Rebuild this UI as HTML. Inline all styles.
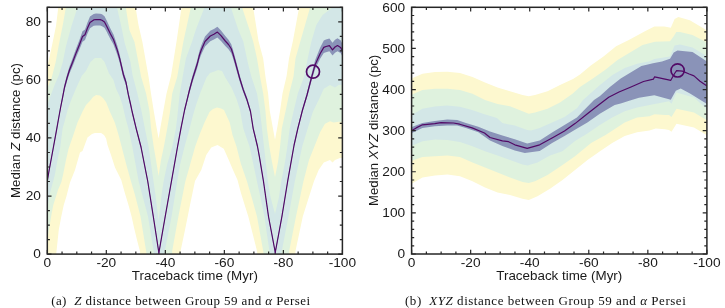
<!DOCTYPE html><html><head><meta charset="utf-8"><style>
html,body{margin:0;padding:0;background:#fff;width:725px;height:308px;overflow:hidden}
svg{display:block;will-change:transform}
.t{font-family:"Liberation Sans",sans-serif;font-size:12.60px;fill:#1a1a1a}
.c{font-family:"Liberation Serif",serif;font-size:12.4px;fill:#111}
</style></head><body><svg width="725" height="308" viewBox="0 0 725 308"><clipPath id="c47"><rect x="47.30" y="7.30" width="295.10" height="246.80"/></clipPath><g clip-path="url(#c47)"><polygon points="47.30,66.00 50.00,55.00 52.50,43.00 56.00,26.00 58.30,7.00 59.00,-10.00 134.50,-10.00 135.60,7.50 138.50,25.00 142.40,42.00 148.60,77.00 151.00,93.60 153.60,110.00 156.50,127.00 158.60,138.60 160.50,127.00 163.50,110.00 166.50,93.60 171.00,76.00 176.60,41.00 181.50,7.50 182.50,-10.00 252.30,-10.00 253.20,7.50 258.50,41.00 263.20,58.60 265.50,77.00 268.10,93.60 269.80,111.00 272.50,126.00 275.00,139.80 277.50,126.00 280.00,111.00 282.50,93.60 286.60,76.00 289.00,58.60 292.90,41.00 299.10,7.50 300.00,-10.00 343.00,-10.00 343.00,158.00 340.00,158.00 335.00,160.00 332.50,162.40 330.00,159.90 323.80,162.40 318.80,169.80 313.90,181.50 308.00,200.00 302.80,216.50 295.50,251.00 295.30,253.70 295.20,262.00 257.50,262.00 257.30,253.70 257.00,251.00 248.30,216.50 244.60,204.80 240.80,192.40 237.50,180.00 233.00,170.00 228.75,160.00 223.75,148.75 217.50,145.00 211.25,147.50 206.25,155.00 201.25,170.00 195.00,181.00 190.00,205.00 185.00,230.00 180.00,253.70 179.80,262.00 140.50,262.00 140.20,253.70 139.90,251.00 137.00,240.00 134.00,227.40 131.60,216.50 128.40,204.80 124.70,192.40 121.25,180.00 115.00,167.50 111.00,155.00 107.50,145.00 106.10,138.60 104.00,135.00 101.10,133.00 94.90,133.00 92.00,134.00 87.50,137.50 82.50,151.00 80.00,152.50 75.00,170.00 70.00,182.50 66.25,197.00 63.75,205.00 61.20,217.00 58.75,230.00 56.25,253.70 55.80,262.00 47.30,262.00" fill="#fdf8cf"/><polygon points="47.30,88.00 51.60,78.00 55.70,62.00 58.60,46.00 62.60,26.00 65.80,8.00 66.50,-10.00 125.30,-10.00 125.80,7.50 129.40,30.00 134.50,42.00 141.20,77.00 146.10,93.60 149.50,111.00 151.10,128.60 153.60,146.00 156.00,160.00 158.60,176.00 161.00,160.00 164.00,146.00 167.20,128.60 170.00,112.00 172.20,93.60 177.20,77.00 183.40,41.50 190.80,7.50 191.50,-10.00 241.50,-10.00 242.10,7.50 249.50,29.80 253.20,41.50 257.00,58.60 260.00,76.50 263.20,93.60 265.50,111.50 266.90,128.60 269.40,147.00 272.00,162.00 275.00,177.00 278.00,162.00 280.00,147.00 281.80,128.60 285.50,111.50 289.20,93.60 293.50,76.50 295.50,58.60 300.30,41.50 310.10,7.50 311.00,-10.00 343.00,-10.00 343.00,121.80 338.70,121.80 333.70,122.40 330.00,121.20 325.00,123.70 320.10,132.30 314.40,146.50 309.00,160.00 303.40,181.50 296.00,216.50 289.20,251.00 289.20,253.70 288.80,262.00 264.00,262.00 263.60,253.70 263.20,251.00 257.00,216.50 252.00,198.60 247.00,181.50 240.80,163.60 236.50,146.50 232.50,135.00 229.70,122.40 224.00,110.00 221.00,108.50 217.00,107.50 213.00,109.00 209.50,112.00 204.50,122.40 199.50,134.80 195.20,146.50 190.00,165.00 185.30,181.50 178.40,216.50 172.20,251.00 172.20,253.70 171.80,262.00 147.00,262.00 146.50,253.70 146.10,251.00 140.50,216.50 135.00,195.00 131.00,181.50 126.00,163.60 121.60,146.50 118.50,134.80 114.80,122.40 109.80,111.50 106.10,102.30 103.00,98.00 99.90,95.50 96.10,94.90 93.00,97.00 89.90,101.10 86.00,105.00 82.80,111.00 77.50,122.40 72.60,137.30 68.50,149.00 66.00,160.00 63.00,175.00 61.40,182.00 58.00,190.00 53.30,205.00 51.40,215.00 48.30,233.60 47.30,240.00" fill="#dff2de"/><polygon points="47.30,105.00 51.40,93.60 55.00,84.00 58.90,75.00 62.80,62.00 66.00,46.00 71.50,26.00 77.50,7.50 78.50,-10.00 116.30,-10.00 117.00,7.50 121.00,25.00 124.70,43.00 130.50,62.00 132.50,75.00 137.40,93.60 141.50,111.00 144.90,128.60 148.60,146.50 153.60,182.00 155.50,195.00 158.60,221.00 161.50,195.00 163.50,182.00 167.00,165.00 172.20,147.00 175.90,128.60 177.50,115.00 179.70,93.60 182.30,79.00 185.90,58.60 192.10,41.50 195.80,29.80 204.50,7.50 205.50,-10.00 230.30,-10.00 230.90,7.50 238.30,29.80 243.30,41.50 248.30,64.80 251.50,77.00 257.00,93.60 260.00,111.50 262.00,128.60 264.00,146.50 268.10,183.00 270.50,197.00 275.00,214.00 279.00,197.00 281.00,183.00 285.00,162.00 287.30,147.00 289.70,128.60 293.50,111.50 297.80,93.60 304.00,77.00 307.70,58.60 311.40,41.50 316.30,24.90 322.60,14.90 332.50,7.50 333.50,-10.00 343.00,-10.00 343.00,85.00 338.70,84.90 335.00,87.40 330.00,84.90 323.80,88.70 318.80,99.80 313.00,111.50 307.70,128.60 302.20,146.50 294.80,181.50 288.50,216.50 281.80,251.00 281.50,253.70 281.00,262.00 270.20,262.00 269.80,253.70 269.40,251.00 264.40,216.50 260.70,198.60 257.00,181.50 253.20,163.60 249.50,146.50 243.30,128.60 240.00,110.00 236.50,99.00 231.50,87.40 225.30,77.50 222.00,71.00 218.00,70.00 214.40,71.50 210.00,73.00 206.50,77.50 201.00,91.00 196.00,105.00 192.80,116.00 189.60,128.60 184.60,146.50 180.00,165.00 177.20,181.50 171.60,216.50 164.80,251.00 164.50,253.70 164.00,262.00 154.50,262.00 154.00,253.70 153.60,251.00 148.00,216.50 138.70,181.50 132.30,146.50 128.40,128.60 125.50,118.00 122.50,105.00 119.50,96.00 116.10,89.00 113.40,79.70 109.00,73.50 104.60,62.00 101.10,58.00 94.90,58.00 90.50,62.00 86.10,70.80 81.70,76.10 76.00,88.50 71.30,99.80 67.60,110.00 65.00,120.00 62.60,128.60 60.30,147.00 57.50,160.00 54.80,175.00 53.00,182.00 50.00,193.00 47.30,208.00" fill="#d3e7e7"/><polygon points="47.30,179.20 49.00,169.20 52.90,148.20 56.80,126.80 58.50,117.20 60.50,106.16 62.60,94.96 64.50,84.60 67.00,74.76 69.50,66.38 72.60,58.32 76.30,47.96 79.50,39.69 82.50,31.32 85.00,29.54 87.50,22.42 90.00,16.56 93.70,13.95 96.00,13.53 100.20,13.63 102.00,14.36 104.50,16.14 106.70,20.54 108.30,23.99 110.50,28.70 113.50,34.46 117.20,45.35 119.70,54.45 123.50,71.62 126.00,79.36 128.40,92.45 130.50,101.97 132.20,110.20 136.20,126.80 141.00,145.20 147.70,179.20 153.30,214.70 158.60,249.20 158.90,251.90 159.20,249.20 165.30,214.20 171.50,179.20 177.50,145.20 180.90,126.80 184.60,108.20 187.40,96.32 189.50,87.32 192.50,75.80 197.00,60.94 199.50,50.68 201.25,45.45 205.00,36.55 210.30,30.80 213.90,29.02 217.40,26.72 221.00,30.48 225.30,36.03 228.50,39.69 231.25,44.14 233.00,49.64 235.00,56.96 239.60,74.76 243.30,87.21 247.00,97.57 250.50,109.70 253.20,126.80 257.50,144.70 259.50,155.60 263.50,179.70 268.50,214.70 275.00,249.20 275.20,251.90 275.50,249.20 278.50,233.20 282.00,214.20 287.80,178.70 294.10,143.20 297.80,126.80 302.50,108.19 307.00,92.49 311.40,74.51 315.10,60.25 320.10,47.65 323.80,40.55 326.00,39.45 329.40,38.40 332.50,42.87 335.00,39.82 337.50,38.35 340.60,40.23 343.00,45.04 343.00,57.46 340.60,53.07 337.50,51.35 335.00,52.69 332.50,55.45 329.40,51.33 326.00,52.15 323.80,52.94 320.10,58.75 315.10,68.93 311.40,81.34 307.00,97.47 302.50,111.81 297.80,130.40 294.10,146.80 287.80,182.30 282.00,217.80 278.50,236.80 275.50,252.80 275.20,255.50 275.00,252.80 268.50,218.30 263.50,183.30 259.50,159.20 257.50,148.30 253.20,130.40 250.50,113.30 247.00,102.03 243.30,92.59 239.60,81.24 235.00,65.04 233.00,58.36 231.25,53.36 228.50,49.31 225.30,45.97 221.00,40.92 217.40,37.48 213.90,39.58 210.30,41.20 205.00,46.45 201.25,54.55 199.50,59.32 197.00,68.66 192.50,82.20 189.50,92.68 187.40,100.88 184.60,111.80 180.90,130.40 177.50,148.80 171.50,182.80 165.30,217.80 159.20,252.80 158.90,255.50 158.60,252.80 153.30,218.30 147.70,182.80 141.00,148.80 136.20,130.40 132.20,113.80 130.50,106.03 128.40,97.35 126.00,85.44 123.50,78.38 119.70,62.75 117.20,54.45 113.50,44.54 110.50,39.30 108.30,35.01 106.70,31.86 104.50,27.86 102.00,26.24 100.20,25.57 96.00,25.47 93.70,25.85 90.00,28.24 87.50,33.58 85.00,40.06 82.50,41.68 79.50,49.31 76.30,56.84 72.60,66.28 69.50,73.62 67.00,81.24 64.50,90.20 62.60,99.64 60.50,109.84 58.50,120.80 56.80,130.40 52.90,151.80 49.00,172.80 47.30,182.80" fill="#8a93b8"/><polyline points="47.30,181.00 49.00,171.00 52.90,150.00 56.80,128.60 58.50,119.00 60.50,108.00 62.60,97.30 64.50,87.40 67.00,78.00 69.50,70.00 72.60,62.30 76.30,52.40 79.50,44.50 82.50,36.50 85.00,34.80 87.50,28.00 90.00,22.40 93.70,19.90 96.00,19.50 100.20,19.60 102.00,20.30 104.50,22.00 106.70,26.20 108.30,29.50 110.50,34.00 113.50,39.50 117.20,49.90 119.70,58.60 123.50,75.00 126.00,82.40 128.40,94.90 130.50,104.00 132.20,112.00 136.20,128.60 141.00,147.00 147.70,181.00 153.30,216.50 158.60,251.00 158.90,253.70 159.20,251.00 165.30,216.00 171.50,181.00 177.50,147.00 180.90,128.60 184.60,110.00 187.40,98.60 189.50,90.00 192.50,79.00 197.00,64.80 199.50,55.00 201.25,50.00 205.00,41.50 210.30,36.00 213.90,34.30 217.40,32.10 221.00,35.70 225.30,41.00 228.50,44.50 231.25,48.75 233.00,54.00 235.00,61.00 239.60,78.00 243.30,89.90 247.00,99.80 250.50,111.50 253.20,128.60 257.50,146.50 259.50,157.40 263.50,181.50 268.50,216.50 275.00,251.00 275.20,253.70 275.50,251.00 278.50,235.00 282.00,216.00 287.80,180.50 294.10,145.00 297.80,128.60 302.50,110.00 307.00,95.00 311.40,78.00 315.10,64.80 320.10,53.70 323.80,47.40 326.00,46.50 329.40,45.60 332.50,49.90 335.00,47.00 337.50,45.60 340.60,47.40 343.00,52.00" fill="none" stroke="#520a66" stroke-width="1.20" stroke-linejoin="round"/><circle cx="313.00" cy="71.70" r="6.50" fill="none" stroke="#520a66" stroke-width="1.7"/></g><path d="M47.30 254.10v-4.20M47.30 7.30v4.20M62.05 254.10v-2.60M62.05 7.30v2.60M76.81 254.10v-2.60M76.81 7.30v2.60M91.56 254.10v-2.60M91.56 7.30v2.60M106.32 254.10v-4.20M106.32 7.30v4.20M121.07 254.10v-2.60M121.07 7.30v2.60M135.83 254.10v-2.60M135.83 7.30v2.60M150.58 254.10v-2.60M150.58 7.30v2.60M165.34 254.10v-4.20M165.34 7.30v4.20M180.09 254.10v-2.60M180.09 7.30v2.60M194.85 254.10v-2.60M194.85 7.30v2.60M209.61 254.10v-2.60M209.61 7.30v2.60M224.36 254.10v-4.20M224.36 7.30v4.20M239.12 254.10v-2.60M239.12 7.30v2.60M253.87 254.10v-2.60M253.87 7.30v2.60M268.62 254.10v-2.60M268.62 7.30v2.60M283.38 254.10v-4.20M283.38 7.30v4.20M298.13 254.10v-2.60M298.13 7.30v2.60M312.89 254.10v-2.60M312.89 7.30v2.60M327.64 254.10v-2.60M327.64 7.30v2.60M342.40 254.10v-4.20M342.40 7.30v4.20M47.30 254.10h4.20M342.40 254.10h-4.20M47.30 239.58h2.60M342.40 239.58h-2.60M47.30 225.06h2.60M342.40 225.06h-2.60M47.30 210.55h2.60M342.40 210.55h-2.60M47.30 196.03h4.20M342.40 196.03h-4.20M47.30 181.51h2.60M342.40 181.51h-2.60M47.30 166.99h2.60M342.40 166.99h-2.60M47.30 152.48h2.60M342.40 152.48h-2.60M47.30 137.96h4.20M342.40 137.96h-4.20M47.30 123.44h2.60M342.40 123.44h-2.60M47.30 108.92h2.60M342.40 108.92h-2.60M47.30 94.41h2.60M342.40 94.41h-2.60M47.30 79.89h4.20M342.40 79.89h-4.20M47.30 65.37h2.60M342.40 65.37h-2.60M47.30 50.85h2.60M342.40 50.85h-2.60M47.30 36.34h2.60M342.40 36.34h-2.60M47.30 21.82h4.20M342.40 21.82h-4.20M47.30 7.30h2.60M342.40 7.30h-2.60" stroke="#262626" stroke-width="1.2" fill="none"/><rect x="47.30" y="7.30" width="295.10" height="246.80" fill="none" stroke="#262626" stroke-width="1.5"/><text transform="translate(47.30,267.40) scale(1.09,1)" text-anchor="middle" class="t">0</text><text transform="translate(106.32,267.40) scale(1.09,1)" text-anchor="middle" class="t">-20</text><text transform="translate(165.34,267.40) scale(1.09,1)" text-anchor="middle" class="t">-40</text><text transform="translate(224.36,267.40) scale(1.09,1)" text-anchor="middle" class="t">-60</text><text transform="translate(283.38,267.40) scale(1.09,1)" text-anchor="middle" class="t">-80</text><text transform="translate(342.40,267.40) scale(1.09,1)" text-anchor="middle" class="t">-100</text><text transform="translate(40.90,258.40) scale(1.09,1)" text-anchor="end" class="t">0</text><text transform="translate(40.90,200.33) scale(1.09,1)" text-anchor="end" class="t">20</text><text transform="translate(40.90,142.26) scale(1.09,1)" text-anchor="end" class="t">40</text><text transform="translate(40.90,84.19) scale(1.09,1)" text-anchor="end" class="t">60</text><text transform="translate(40.90,26.12) scale(1.09,1)" text-anchor="end" class="t">80</text><text x="194.85" y="280" text-anchor="middle" class="t" textLength="126" lengthAdjust="spacingAndGlyphs">Traceback time (Myr)</text><text transform="translate(20.2,130.5) rotate(-90)" text-anchor="middle" class="t" textLength="135" lengthAdjust="spacingAndGlyphs">Median <tspan font-style="italic">Z</tspan> distance (pc)</text><clipPath id="c411"><rect x="411.60" y="7.30" width="295.30" height="246.70"/></clipPath><g clip-path="url(#c411)"><polygon points="411.50,79.00 413.75,77.50 422.50,73.75 435.00,72.00 447.50,71.75 460.00,73.00 472.50,77.00 485.00,82.50 497.50,87.50 510.00,91.25 522.50,95.00 528.75,96.25 535.00,95.00 547.50,91.25 560.00,85.00 573.00,79.00 580.00,74.50 590.80,65.40 603.50,56.50 616.10,46.30 628.80,40.00 645.40,30.90 654.30,26.50 664.40,26.50 670.80,27.80 674.60,18.90 678.40,17.00 689.80,20.20 702.50,27.80 707.00,30.50 708.00,136.25 706.50,135.00 694.00,127.50 676.50,123.75 671.50,131.75 669.00,130.00 665.00,129.20 655.70,128.60 649.50,130.40 637.10,132.30 624.70,136.00 612.20,143.00 600.00,151.25 587.50,160.00 575.00,170.00 562.50,180.00 550.00,188.75 537.50,196.25 528.75,200.00 522.50,198.75 510.00,195.00 497.50,192.50 485.00,187.50 472.50,181.25 460.00,176.25 447.50,174.50 435.00,175.50 422.50,177.50 413.75,182.50 411.50,184.00" fill="#fdf8cf"/><polygon points="411.50,95.00 413.75,93.75 422.50,90.00 435.00,88.75 447.50,88.75 460.00,90.00 472.50,93.75 485.00,100.00 497.50,104.00 510.00,106.25 522.50,111.25 528.75,113.75 535.00,112.50 547.50,108.75 560.00,102.50 572.50,93.75 580.00,87.00 592.50,78.75 605.00,70.00 617.50,60.00 630.00,52.50 642.50,45.00 655.00,41.75 670.00,41.25 673.75,36.25 676.25,32.00 680.00,32.00 692.50,35.00 707.00,42.50 708.00,121.25 706.50,120.00 694.00,112.50 676.50,108.75 671.50,117.00 669.00,115.00 665.00,114.90 654.50,114.30 649.50,116.20 637.10,117.40 624.70,122.40 606.00,134.80 591.10,143.00 575.00,156.25 562.50,165.00 547.50,175.00 535.00,181.25 528.75,183.00 522.50,182.00 510.00,177.50 497.50,172.50 485.00,167.50 472.50,162.50 460.00,157.00 447.50,155.50 435.00,156.25 422.50,157.00 413.75,160.00 411.50,161.00" fill="#dff2de"/><polygon points="411.50,115.00 413.70,113.70 422.40,108.70 434.80,106.50 447.20,105.60 459.70,106.80 472.10,109.90 484.50,114.30 496.90,118.00 502.40,123.10 514.80,125.60 527.20,129.90 531.00,130.50 539.70,128.00 552.10,122.40 564.50,116.90 577.20,108.00 583.00,100.00 600.00,85.00 612.40,75.00 624.80,68.10 637.20,63.70 649.70,61.20 654.30,59.00 670.00,56.40 674.60,45.50 680.00,44.50 692.50,47.50 707.00,56.25 708.00,110.00 706.50,108.75 694.00,97.50 676.50,92.50 671.50,103.75 669.00,101.25 660.00,103.00 649.50,105.00 637.10,107.50 624.70,111.20 612.20,117.40 599.80,124.90 587.40,133.60 575.00,141.00 562.40,151.20 550.00,155.50 537.50,162.50 527.50,165.50 522.50,164.50 510.00,160.00 497.50,155.50 485.00,151.25 472.50,146.25 460.00,142.00 447.50,140.00 435.00,139.50 422.50,141.25 413.75,145.00 411.50,146.00" fill="#d3e7e7"/><polygon points="411.50,127.50 412.50,126.70 422.40,123.00 434.80,121.10 447.20,119.60 457.20,119.90 465.90,123.00 478.30,126.70 490.00,131.50 502.40,135.50 514.80,139.20 527.20,143.60 539.70,140.50 552.10,132.40 564.50,124.90 576.90,117.50 594.00,100.00 600.00,96.00 609.90,87.00 620.70,78.60 633.10,71.10 641.40,66.10 653.00,63.20 662.00,61.50 670.00,58.75 673.75,52.50 677.50,50.50 692.50,52.00 707.00,61.50 707.00,104.10 690.00,93.50 680.70,88.60 675.80,90.80 670.80,99.70 654.30,95.20 639.00,97.80 630.00,100.50 620.70,103.60 614.70,105.00 599.80,113.70 587.40,122.40 575.00,129.80 564.50,136.10 552.10,142.90 539.70,151.00 524.80,153.00 514.80,150.40 502.40,146.00 490.00,140.50 478.30,132.30 465.90,127.90 457.20,125.50 447.20,125.50 434.80,126.30 422.40,127.90 411.90,132.90 411.50,133.20" fill="#8a93b8"/><polyline points="411.50,130.80 411.90,130.40 416.20,127.90 422.40,124.80 434.80,123.60 441.00,122.70 453.50,123.00 459.70,124.20 472.10,127.90 484.50,133.00 490.00,137.50 502.40,140.80 508.60,141.70 514.80,144.80 527.20,148.30 539.70,144.80 552.10,138.00 564.50,131.10 575.00,123.60 587.40,113.70 598.60,105.00 608.70,97.20 619.00,92.00 631.00,87.00 643.50,81.50 653.40,79.20 654.60,76.80 670.80,80.30 674.60,73.50 676.60,70.60 682.40,71.10 689.20,74.00 694.00,75.90 700.00,81.30 707.00,86.00" fill="none" stroke="#520a66" stroke-width="1.20" stroke-linejoin="round"/><circle cx="677.60" cy="70.40" r="6.60" fill="none" stroke="#520a66" stroke-width="1.7"/></g><path d="M411.60 254.00v-4.20M411.60 7.30v4.20M426.37 254.00v-2.60M426.37 7.30v2.60M441.13 254.00v-2.60M441.13 7.30v2.60M455.90 254.00v-2.60M455.90 7.30v2.60M470.66 254.00v-4.20M470.66 7.30v4.20M485.43 254.00v-2.60M485.43 7.30v2.60M500.19 254.00v-2.60M500.19 7.30v2.60M514.96 254.00v-2.60M514.96 7.30v2.60M529.72 254.00v-4.20M529.72 7.30v4.20M544.49 254.00v-2.60M544.49 7.30v2.60M559.25 254.00v-2.60M559.25 7.30v2.60M574.01 254.00v-2.60M574.01 7.30v2.60M588.78 254.00v-4.20M588.78 7.30v4.20M603.54 254.00v-2.60M603.54 7.30v2.60M618.31 254.00v-2.60M618.31 7.30v2.60M633.08 254.00v-2.60M633.08 7.30v2.60M647.84 254.00v-4.20M647.84 7.30v4.20M662.61 254.00v-2.60M662.61 7.30v2.60M677.37 254.00v-2.60M677.37 7.30v2.60M692.13 254.00v-2.60M692.13 7.30v2.60M706.90 254.00v-4.20M706.90 7.30v4.20M411.60 254.00h4.20M706.90 254.00h-4.20M411.60 245.78h2.60M706.90 245.78h-2.60M411.60 237.55h2.60M706.90 237.55h-2.60M411.60 229.33h2.60M706.90 229.33h-2.60M411.60 221.11h2.60M706.90 221.11h-2.60M411.60 212.88h4.20M706.90 212.88h-4.20M411.60 204.66h2.60M706.90 204.66h-2.60M411.60 196.44h2.60M706.90 196.44h-2.60M411.60 188.21h2.60M706.90 188.21h-2.60M411.60 179.99h2.60M706.90 179.99h-2.60M411.60 171.77h4.20M706.90 171.77h-4.20M411.60 163.54h2.60M706.90 163.54h-2.60M411.60 155.32h2.60M706.90 155.32h-2.60M411.60 147.10h2.60M706.90 147.10h-2.60M411.60 138.87h2.60M706.90 138.87h-2.60M411.60 130.65h4.20M706.90 130.65h-4.20M411.60 122.43h2.60M706.90 122.43h-2.60M411.60 114.20h2.60M706.90 114.20h-2.60M411.60 105.98h2.60M706.90 105.98h-2.60M411.60 97.76h2.60M706.90 97.76h-2.60M411.60 89.53h4.20M706.90 89.53h-4.20M411.60 81.31h2.60M706.90 81.31h-2.60M411.60 73.09h2.60M706.90 73.09h-2.60M411.60 64.86h2.60M706.90 64.86h-2.60M411.60 56.64h2.60M706.90 56.64h-2.60M411.60 48.42h4.20M706.90 48.42h-4.20M411.60 40.19h2.60M706.90 40.19h-2.60M411.60 31.97h2.60M706.90 31.97h-2.60M411.60 23.75h2.60M706.90 23.75h-2.60M411.60 15.52h2.60M706.90 15.52h-2.60M411.60 7.30h4.20M706.90 7.30h-4.20" stroke="#262626" stroke-width="1.2" fill="none"/><rect x="411.60" y="7.30" width="295.30" height="246.70" fill="none" stroke="#262626" stroke-width="1.5"/><text transform="translate(411.60,267.30) scale(1.09,1)" text-anchor="middle" class="t">0</text><text transform="translate(470.66,267.30) scale(1.09,1)" text-anchor="middle" class="t">-20</text><text transform="translate(529.72,267.30) scale(1.09,1)" text-anchor="middle" class="t">-40</text><text transform="translate(588.78,267.30) scale(1.09,1)" text-anchor="middle" class="t">-60</text><text transform="translate(647.84,267.30) scale(1.09,1)" text-anchor="middle" class="t">-80</text><text transform="translate(706.90,267.30) scale(1.09,1)" text-anchor="middle" class="t">-100</text><text transform="translate(405.20,258.30) scale(1.09,1)" text-anchor="end" class="t">0</text><text transform="translate(405.20,217.18) scale(1.09,1)" text-anchor="end" class="t">100</text><text transform="translate(405.20,176.07) scale(1.09,1)" text-anchor="end" class="t">200</text><text transform="translate(405.20,134.95) scale(1.09,1)" text-anchor="end" class="t">300</text><text transform="translate(405.20,93.83) scale(1.09,1)" text-anchor="end" class="t">400</text><text transform="translate(405.20,52.72) scale(1.09,1)" text-anchor="end" class="t">500</text><text transform="translate(405.20,11.60) scale(1.09,1)" text-anchor="end" class="t">600</text><text x="559.25" y="280" text-anchor="middle" class="t" textLength="126" lengthAdjust="spacingAndGlyphs">Traceback time (Myr)</text><text transform="translate(377.6,130.4) rotate(-90)" text-anchor="middle" class="t" textLength="151" lengthAdjust="spacingAndGlyphs">Median <tspan font-style="italic">XYZ</tspan> distance (pc)</text><text transform="translate(51.2,305) scale(1.05,1)" class="c" textLength="246.5" lengthAdjust="spacing">(a)&#160; <tspan font-style="italic">Z</tspan> distance between Group 59 and <tspan font-style="italic">α</tspan> Persei</text><text transform="translate(405,305) scale(1.05,1)" class="c" textLength="267.4" lengthAdjust="spacing">(b)&#160; <tspan font-style="italic">XYZ</tspan> distance between Group 59 and <tspan font-style="italic">α</tspan> Persei</text></svg></body></html>
